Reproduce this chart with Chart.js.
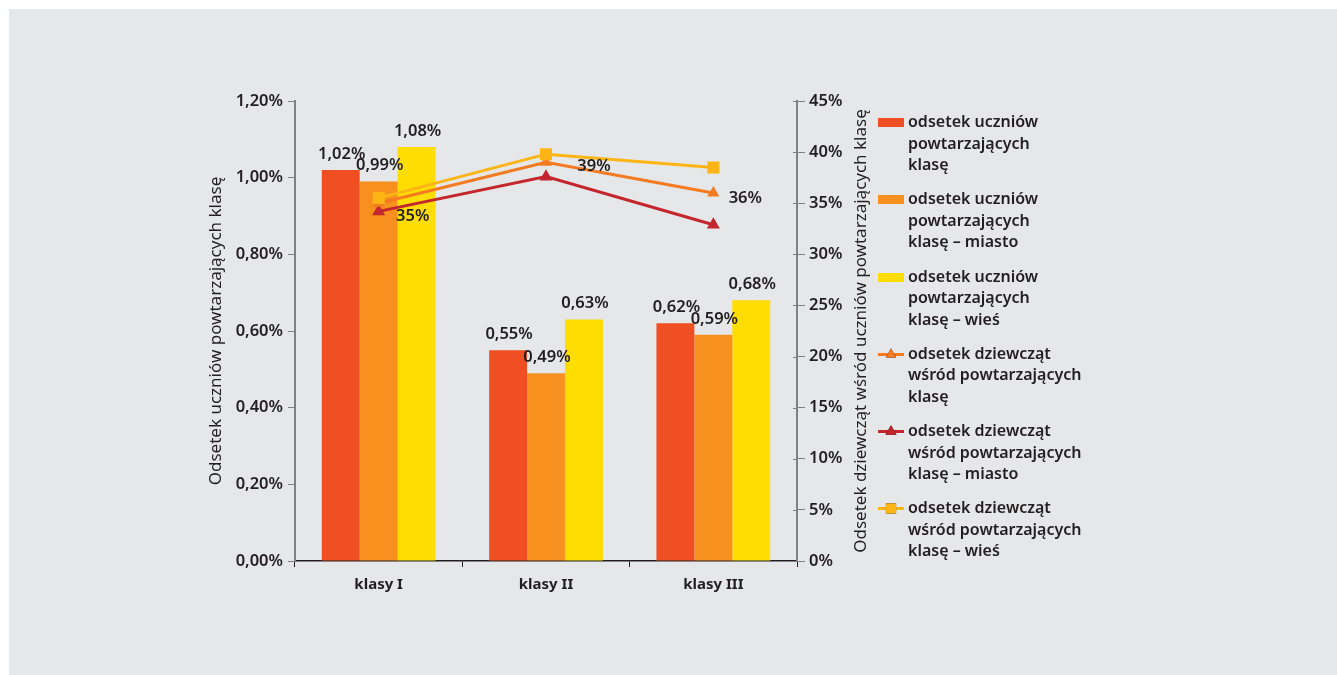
<!DOCTYPE html>
<html lang="pl">
<head>
<meta charset="utf-8">
<title>Odsetek uczniów powtarzających klasę</title>
<script src="https://cdn.jsdelivr.net/npm/chart.js@4/dist/chart.umd.min.js"></script>
<style>
  html, body { margin: 0; padding: 0; background: #ffffff; }
  body { width: 1337px; height: 675px; overflow: hidden; position: relative; font-family: "Noto Sans", sans-serif; }
  #panel { position: absolute; left: 9px; top: 9px; right: 0; bottom: 0; background: #e6e7e8; }
  #chart { position: absolute; left: 0; top: 0; }
  #legend { position: absolute; left: 878px; top: 111px; }
  .item { display: flex; align-items: flex-start; height: 77.3px; }
  .sw { width: 26px; height: 22px; margin-right: 4px; flex: none; }
  .txt { font: 600 16px/21.5px "Noto Sans", sans-serif; color: #231f20; white-space: nowrap; }
</style>
</head>
<body>
<div id="panel"></div>
<canvas id="chart" width="1337" height="675"></canvas>
<div id="legend"></div>
<script>
// Categories and series (shares in %)
const categories = ['klasy I', 'klasy II', 'klasy III'];

const repeatAll     = [1.02, 0.55, 0.62];
const repeatCity    = [0.99, 0.49, 0.59];
const repeatVillage = [1.08, 0.63, 0.68];

const girlsAll     = [35, 39, 36];
const girlsCity    = [34.2, 37.6, 32.9];
const girlsVillage = [35.5, 39.8, 38.5];

// Series names, one entry per legend line
const nameRepeatAll     = ['odsetek uczniów', 'powtarzających', 'klasę'];
const nameRepeatCity    = ['odsetek uczniów', 'powtarzających', 'klasę – miasto'];
const nameRepeatVillage = ['odsetek uczniów', 'powtarzających', 'klasę – wieś'];
const nameGirlsAll      = ['odsetek dziewcząt', 'wśród powtarzających', 'klasę'];
const nameGirlsCity     = ['odsetek dziewcząt', 'wśród powtarzających', 'klasę – miasto'];
const nameGirlsVillage  = ['odsetek dziewcząt', 'wśród powtarzających', 'klasę – wieś'];

const leftTitle  = 'Odsetek uczniów powtarzających klasę';
const rightTitle = 'Odsetek dziewcząt wśród uczniów powtarzających klasę';

const FONT = '"Noto Sans", sans-serif';
const INK = '#231f20';
const AXIS_GRAY = '#808080';

const fmtPct2 = v => v.toFixed(2).replace('.', ',') + '%';
const fmtPct0 = v => Math.round(v) + '%';

function barSet(names, data, color) {
  return {
    type: 'bar', label: names.join(' '), lines: names, data,
    backgroundColor: color, borderWidth: 0, yAxisID: 'y', order: 2,
    categoryPercentage: 0.68, barPercentage: 1.0
  };
}
function lineSet(names, data, color, marker, radius, showLabels) {
  return {
    type: 'line', label: names.join(' '), lines: names, data,
    borderColor: color, backgroundColor: color, borderWidth: 3,
    pointStyle: marker, pointRadius: radius, pointHoverRadius: radius,
    pointBackgroundColor: color, pointBorderWidth: 0,
    yAxisID: 'y2', order: 1, tension: 0, showLabels
  };
}

// Value labels above bars and beside the points of the main line
const valueLabels = {
  id: 'valueLabels',
  afterDatasetsDraw(chart) {
    const ctx = chart.ctx;
    ctx.save();
    ctx.fillStyle = INK;
    ctx.font = '600 16.5px ' + FONT;
    ctx.textAlign = 'center';
    ctx.textBaseline = 'middle';
    const lineOffsets = [[34, 13], [48, 4], [32, 5]];
    chart.data.datasets.forEach((ds, i) => {
      const meta = chart.getDatasetMeta(i);
      if (ds.type === 'bar') {
        meta.data.forEach((el, j) => {
          ctx.fillText(fmtPct2(ds.data[j]), el.x + 1, el.y - 16);
        });
      } else if (ds.showLabels) {
        meta.data.forEach((el, j) => {
          const [dx, dy] = lineOffsets[j];
          ctx.fillText(fmtPct0(ds.data[j]), el.x + dx, el.y + dy);
        });
      }
    });
    ctx.restore();
  }
};

// Right axis: tick marks reaching into the plot and a title read bottom-to-top
const rightAxisExtras = {
  id: 'rightAxisExtras',
  afterDraw(chart) {
    const s = chart.scales.y2;
    const ctx = chart.ctx;
    ctx.save();
    ctx.strokeStyle = AXIS_GRAY;
    ctx.lineWidth = 1;
    s.ticks.forEach((t, i) => {
      const y = Math.round(s.getPixelForTick(i)) + 0.5;
      ctx.beginPath();
      ctx.moveTo(s.left - 4, y);
      ctx.lineTo(s.left, y);
      ctx.stroke();
    });
    ctx.translate(s.right - 9, (s.top + s.bottom) / 2);
    ctx.rotate(-Math.PI / 2);
    ctx.fillStyle = INK;
    ctx.font = '17px ' + FONT;
    ctx.textAlign = 'center';
    ctx.textBaseline = 'middle';
    ctx.fillText(rightTitle, 0, 0);
    ctx.restore();
  }
};

const chart = new Chart(document.getElementById('chart'), {
  data: {
    labels: categories,
    datasets: [
      lineSet(nameGirlsVillage, girlsVillage, '#fdb515', 'rect', 8.5, false),
      lineSet(nameGirlsAll, girlsAll, '#f47b20', 'triangle', 7, true),
      lineSet(nameGirlsCity, girlsCity, '#c4262e', 'triangle', 7.5, false),
      barSet(nameRepeatAll, repeatAll, '#f04e23'),
      barSet(nameRepeatCity, repeatCity, '#f7901e'),
      barSet(nameRepeatVillage, repeatVillage, '#ffdd00')
    ]
  },
  options: {
    responsive: false,
    animation: false,
    layout: { padding: { left: 200, right: 467, top: 101, bottom: 74 } },
    plugins: { legend: { display: false }, tooltip: { enabled: false } },
    scales: {
      x: {
        grid: { offset: true, drawOnChartArea: false, tickLength: 6, color: INK, lineWidth: 1 },
        border: { color: INK, width: 1.5 },
        ticks: { color: INK, padding: 9, font: { family: FONT, size: 15, weight: 'bold' } },
        afterFit: s => { s.height = 40; }
      },
      y: {
        position: 'left', min: 0, max: 1.2,
        grid: { drawOnChartArea: false, tickLength: 7, color: AXIS_GRAY },
        border: { color: AXIS_GRAY, width: 2 },
        ticks: { stepSize: 0.2, padding: 5, color: INK, font: { family: FONT, size: 16.5, weight: '600' }, callback: v => fmtPct2(v) },
        title: { display: true, text: leftTitle, color: INK, font: { family: FONT, size: 17 }, padding: { top: 6, bottom: 0 } },
        afterFit: s => { s.width = 95; }
      },
      y2: {
        position: 'right', min: 0, max: 45,
        grid: { drawOnChartArea: false, tickLength: 8, color: AXIS_GRAY },
        border: { color: AXIS_GRAY, width: 2 },
        ticks: { stepSize: 5, padding: 4, color: INK, font: { family: FONT, size: 16.5, weight: '600' }, callback: v => v + '%' },
        afterFit: s => { s.width = 73; }
      }
    }
  },
  plugins: [valueLabels, rightAxisExtras]
});

// Legend in the order: bars first, then lines
function buildLegend() {
  const host = document.getElementById('legend');
  const order = [3, 4, 5, 1, 2, 0];
  order.forEach(idx => {
    const ds = chart.data.datasets[idx];
    const item = document.createElement('div');
    item.className = 'item';
    const sw = document.createElement('canvas');
    sw.className = 'sw';
    sw.width = 26; sw.height = 22;
    const c = sw.getContext('2d');
    if (ds.type === 'bar') {
      c.fillStyle = ds.backgroundColor;
      c.fillRect(0, 7, 26, 9);
    } else {
      c.strokeStyle = ds.borderColor;
      c.lineWidth = 3;
      c.beginPath(); c.moveTo(0, 11.5); c.lineTo(26, 11.5); c.stroke();
      Chart.helpers.drawPoint(c, { pointStyle: ds.pointStyle, radius: ds.pointRadius * 0.85, borderWidth: 0 }, 13, 11.5);
      c.fillStyle = ds.backgroundColor;
      c.fill();
    }
    const txt = document.createElement('div');
    txt.className = 'txt';
    txt.innerHTML = ds.lines.join('<br>');
    item.appendChild(sw);
    item.appendChild(txt);
    host.appendChild(item);
  });
}
buildLegend();
</script>
</body>
</html>
